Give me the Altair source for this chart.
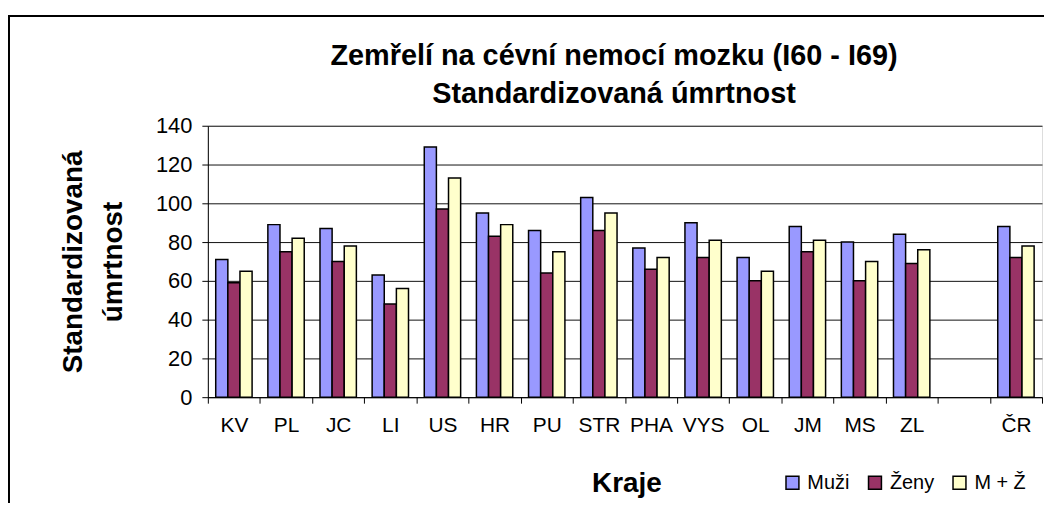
import altair as alt
import pandas as pd

kraje = ["KV", "PL", "JC", "LI", "US", "HR", "PU", "STR", "PHA", "VYS", "OL", "JM", "MS", "ZL", " ", "ČR"]
data_kraje = ["KV", "PL", "JC", "LI", "US", "HR", "PU", "STR", "PHA", "VYS", "OL", "JM", "MS", "ZL", "ČR"]
muzi = [71, 89, 87, 63, 129, 95, 86, 103, 77, 90, 72, 88, 80, 84, 88]
zeny = [59, 75, 70, 48, 97, 83, 64, 86, 66, 72, 60, 75, 60, 69, 72]
mz = [65, 82, 78, 56, 113, 89, 75, 95, 72, 81, 65, 81, 70, 76, 78]
series = ["Muži", "Ženy", "M + Ž"]
colors = ["#9999FF", "#993366", "#FFFFCC"]

rows = []
for i, k in enumerate(data_kraje):
    for s, vals in zip(series, [muzi, zeny, mz]):
        rows.append({"kraj": k, "serie": s, "hodnota": vals[i]})
df = pd.DataFrame(rows)

FONT = "Liberation Sans"

bars = alt.Chart(df).mark_bar(stroke="black", strokeWidth=1.5).encode(
    x=alt.X("kraj:N", sort=kraje,
            scale=alt.Scale(domain=kraje, paddingInner=0, paddingOuter=0),
            axis=alt.Axis(title="Kraje", labelAngle=0, tickBand="extent",
                          labelFontSize=21, labelFont=FONT, labelColor="black",
                          labelPadding=12, tickSize=6, tickColor="black",
                          domainColor="black", domainWidth=1,
                          titleFont=FONT, titleFontSize=28, titleFontWeight="bold",
                          titleColor="black", titleX=421, titleY=87,
                          titleBaseline="middle", titleAlign="center", grid=False)),
    xOffset=alt.XOffset("serie:N", sort=series,
                        scale=alt.Scale(domain=series, paddingInner=0, paddingOuter=0.65)),
    y=alt.Y("hodnota:Q",
            scale=alt.Scale(domain=[0, 140], nice=False),
            axis=alt.Axis(title=["Standardizovaná", "úmrtnost"],
                          values=[0, 20, 40, 60, 80, 100, 120, 140],
                          labelFontSize=22, labelFont=FONT, labelColor="black",
                          labelPadding=10, tickSize=6, tickColor="black",
                          domainColor="black", grid=True, gridColor="#111111",
                          gridWidth=1, titleFont=FONT, titleFontSize=28,
                          titleFontWeight="bold", titleColor="black",
                          titleX=-135, titleY=136.5, titleAngle=270,
                          titleBaseline="middle", titleAlign="center",
                          titleLineHeight=40)),
    color=alt.Color("serie:N", sort=series,
                    scale=alt.Scale(domain=series, range=colors),
                    legend=alt.Legend(title=None, orient="none", direction="horizontal",
                                      legendX=578, legendY=349, symbolType="square",
                                      symbolSize=169, symbolStrokeColor="black",
                                      symbolStrokeWidth=1.5, labelFontSize=20,
                                      labelFont=FONT, labelColor="black",
                                      labelOffset=5, columnPadding=15, padding=0)),
)

border = alt.Chart(pd.DataFrame({"k": [0]})).mark_rect(
    fill="transparent", stroke="black", strokeWidth=2
).encode(
    x=alt.value(-200), x2=alt.value(860), y=alt.value(-110.5), y2=alt.value(420)
)

chart = alt.layer(border, bars).properties(
    width=839,
    height=273,
    title=alt.TitleParams(
        text=["Zemřelí na cévní nemocí mozku (I60 - I69)", "Standardizovaná úmrtnost"],
        font=FONT, fontSize=29, fontWeight="bold", color="black",
        anchor="middle", dx=-11, offset=-95, lineHeight=39,
    ),
    autosize="none",
    padding={"left": 201, "top": 117, "right": 2, "bottom": 105},
).configure_view(
    fill="#C0C0C0", stroke="#808080", strokeWidth=2
).configure(background="white")

chart.save("out.html", embed_options={"renderer": "svg", "actions": False})
